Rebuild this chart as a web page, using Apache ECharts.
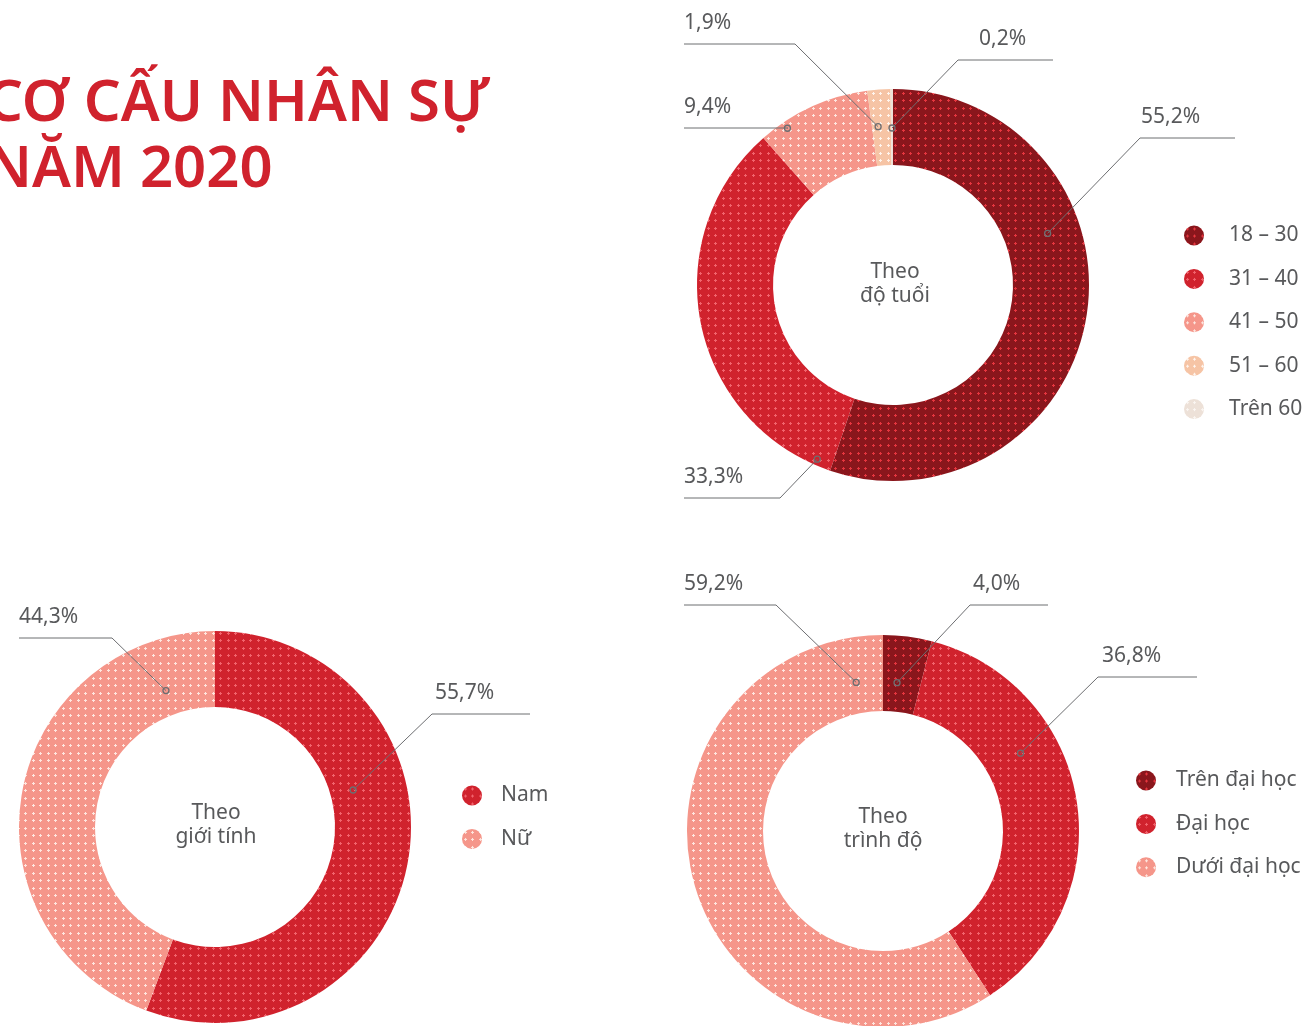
<!DOCTYPE html>
<html>
<head>
<meta charset="utf-8">
<script src="https://cdn.jsdelivr.net/npm/echarts@6/dist/echarts.min.js"></script>
<style>
html,body{margin:0;padding:0;background:#fff}
#main{width:1315px;height:1026px}
</style>
</head>
<body>
<div id="main"></div>
<script>
var ageNames = ['18 – 30', '31 – 40', '41 – 50', '51 – 60', 'Trên 60'];
var ageValues = [55.2, 33.3, 9.4, 1.9, 0.2];
var genderNames = ['Nam', 'Nữ'];
var genderValues = [55.7, 44.3];
var eduNames = ['Trên đại học', 'Đại học', 'Dưới đại học'];
var eduValues = [4.0, 36.8, 59.2];

var FONT = 'Noto Sans';
var GREY = '#58595b';
var LINE = '#6d6e71';

// leader lines: [place of dot inside slice 0..1, dot radius, elbow x, elbow y, line end x, text x]
var ageLeaders = [
    [0.36, 163, 1140, 138, 1235, 1141],
    [0.04, 190, 780, 498, 684, 684],
    [0.22, 189, 788, 128, 684, 684],
    [0.32, 159, 795, 44, 684, 684],
    [0.5, 157, 958, 60, 1053, 979]
];
var genderLeaders = [
    [0.374, 143, 432, 714, 530, 435],
    [0.876, 145, 112, 638, 19, 19]
];
var eduLeaders = [
    [0.375, 149, 970, 605, 1048, 973],
    [0.348, 158, 1098, 677, 1197, 1102],
    [0.952, 151, 776, 605, 684, 684]
];

// dotted fill like the print
function dotted(bg, fg){
    var c = document.createElement('canvas');
    c.width = 15; c.height = 15;
    var ctx = c.getContext('2d');
    ctx.fillStyle = bg;
    ctx.fillRect(0, 0, 15, 15);
    ctx.fillStyle = fg;
    [[3, 3], [10, 3], [3, 10], [10, 10]].forEach(function(p){
        ctx.fillRect(p[0] - 1, p[1], 3, 1);
        ctx.fillRect(p[0], p[1] - 1, 1, 3);
    });
    return {image: c, repeat: 'repeat'};
}
var cDark = dotted('#8a161c', '#e6363f');
var cRed = dotted('#d0222d', '#f2646d');
var cSalmon = dotted('#f5968a', '#fee6df');
var cPeach = dotted('#f6c4a5', '#fff5ee');
var cPale = dotted('#ede1d8', '#fbf6f2');

function pct(v){
    return v.toFixed(1).replace('.', ',') + '%';
}

function dotPoints(values, leaders, cx, cy){
    var total = values.reduce(function(a, b){ return a + b; }, 0);
    var acc = 0, pts = [];
    values.forEach(function(v, i){
        var a0 = acc / total * 360, span = v / total * 360;
        var a = (a0 + leaders[i][0] * span) * Math.PI / 180;
        var r = leaders[i][1];
        pts.push([cx + r * Math.sin(a), cy - r * Math.cos(a)]);
        acc += v;
    });
    return pts;
}

function makeLayout(leaders){
    return function(params){
        var L = leaders[params.dataIndex];
        return {
            x: L[5],
            y: L[3] - 21,
            align: 'left',
            verticalAlign: 'middle'
        };
    };
}

function donut(names, values, colors, center, leaders){
    var dots = dotPoints(values, leaders, center[0], center[1]);
    var marks = [];
    dots.forEach(function(p, i){
        var L = leaders[i];
        marks.push({
            type: 'polyline',
            shape: {points: [p, [L[2], L[3]], [L[4], L[3]]]},
            style: {fill: null, stroke: LINE, lineWidth: 1},
            z: 100
        });
        marks.push({
            type: 'circle',
            shape: {cx: p[0], cy: p[1], r: 3},
            style: {fill: 'none', stroke: LINE, lineWidth: 1.3},
            z: 101
        });
    });
    return {
        series: {
            type: 'pie',
            center: center,
            radius: [120, 196],
            startAngle: 90,
            clockwise: true,
            avoidLabelOverlap: false,
            silent: true,
            animation: false,
            label: {
                show: true,
                position: 'outside',
                formatter: function(p){ return pct(p.value); },
                fontFamily: FONT,
                fontSize: 21,
                color: GREY
            },
            labelLine: {show: false},
            labelLayout: makeLayout(leaders),
            data: names.map(function(n, i){
                return {name: n, value: values[i], itemStyle: {color: colors[i]}};
            })
        },
        marks: marks
    };
}

var ageChart = donut(ageNames, ageValues, [cDark, cRed, cSalmon, cPeach, cPale], [893, 285], ageLeaders);
var genderChart = donut(genderNames, genderValues, [cRed, cSalmon], [215, 827], genderLeaders);
var eduChart = donut(eduNames, eduValues, [cDark, cRed, cSalmon], [883, 831], eduLeaders);

function legendAt(names, left, top, gap){
    return {
        data: names,
        orient: 'vertical',
        left: left,
        top: top,
        padding: 0,
        icon: 'circle',
        itemWidth: 20,
        itemHeight: 20,
        itemGap: 22.4,
        selectedMode: false,
        textStyle: {fontFamily: FONT, fontSize: 21, lineHeight: 20, color: GREY, padding: [0, 0, 0, gap]}
    };
}

function centerText(text, x, y){
    return {
        type: 'text',
        x: x,
        y: y,
        style: {
            text: text,
            align: 'center',
            verticalAlign: 'middle',
            fontFamily: FONT,
            fontSize: 21,
            lineHeight: 24,
            fill: GREY
        }
    };
}

var chart = echarts.init(document.getElementById('main'));
chart.setOption({
    backgroundColor: '#fff',
    animation: false,
    title: {
        text: 'CƠ CẤU NHÂN SỰ\nNĂM 2020',
        left: -14,
        top: 71,
        padding: 0,
        textStyle: {
            fontFamily: FONT,
            fontSize: 58,
            fontWeight: 600,
            lineHeight: 66,
            color: '#d0222d'
        }
    },
    legend: [
        legendAt(ageNames, 1184, 225, 20),
        legendAt(genderNames, 462, 785, 14),
        legendAt(eduNames, 1136, 770, 15)
    ],
    graphic: [
        centerText('Theo\nđộ tuổi', 895, 284),
        centerText('Theo\ngiới tính', 216, 825),
        centerText('Theo\ntrình độ', 883, 829)
    ].concat(ageChart.marks, genderChart.marks, eduChart.marks),
    series: [ageChart.series, genderChart.series, eduChart.series]
});
</script>
</body>
</html>
